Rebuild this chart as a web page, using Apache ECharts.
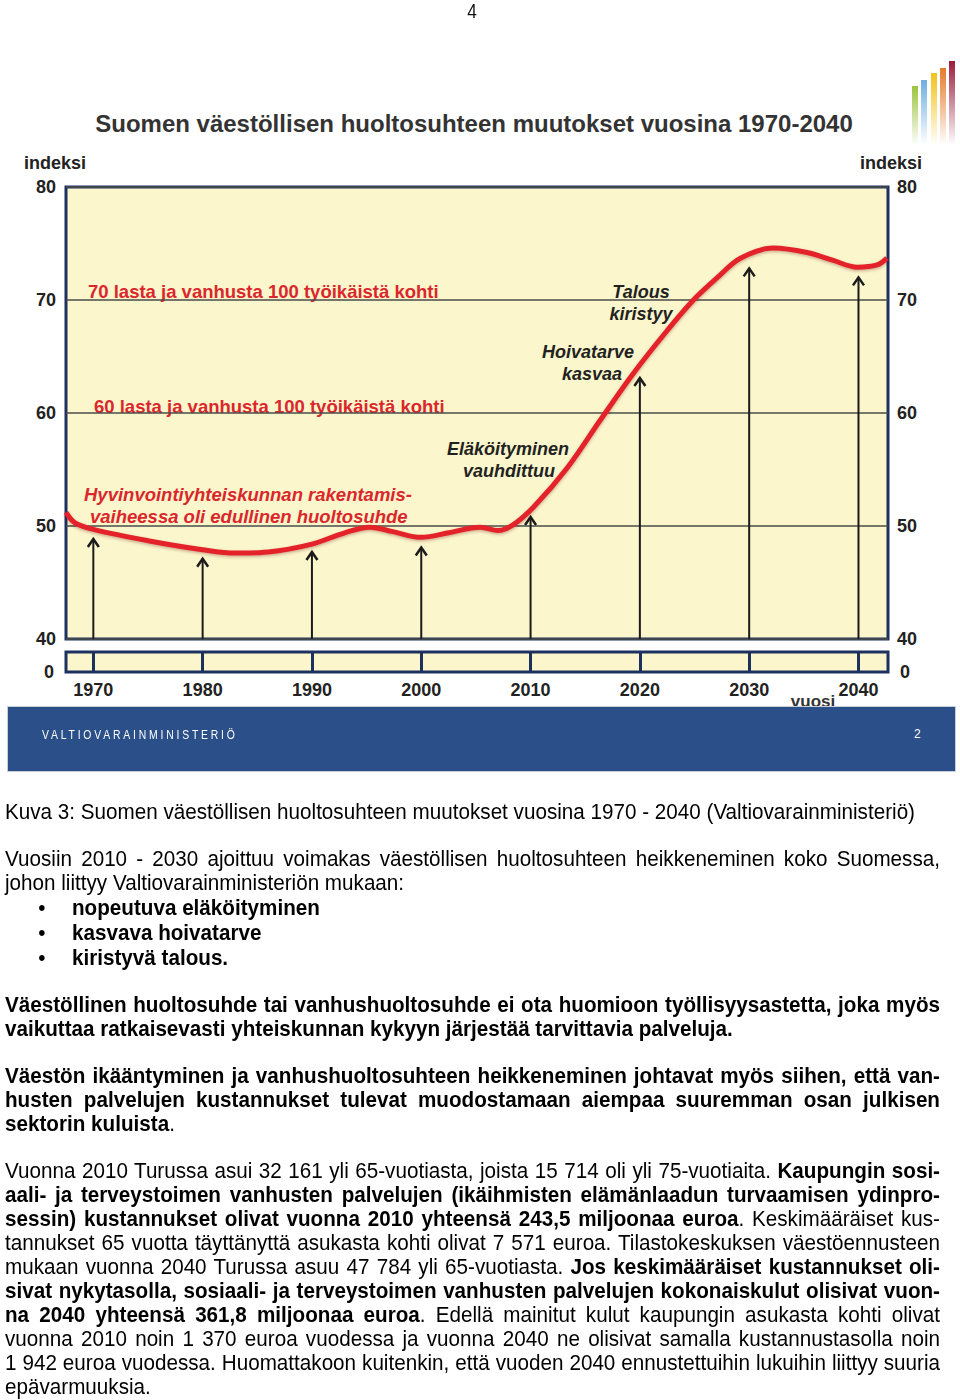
<!DOCTYPE html>
<html><head><meta charset="utf-8">
<script src="https://cdn.jsdelivr.net/npm/echarts@6/dist/echarts.min.js"></script>
<style>
html,body{margin:0;padding:0;background:#fff;width:960px;height:1400px;overflow:hidden;}
#chart{position:absolute;left:0;top:0;width:960px;height:780px;}
#pagenum{position:absolute;left:0;top:-1px;width:944px;text-align:center;font:21px 'Liberation Sans',Arial,sans-serif;color:#111;transform-origin:472px 0;transform:scaleX(0.82);}
#band{position:absolute;left:7px;top:706px;width:947px;height:64px;background:#2B4F88;border:1px solid #c9ced8;z-index:5;}
#band .org{position:absolute;left:34px;top:20px;color:#fff;font:13px 'Liberation Sans',Arial,sans-serif;letter-spacing:3.5px;transform-origin:0 0;transform:scaleX(0.8);}
#band .pg{position:absolute;left:906px;top:20px;color:#fff;font:12px 'Liberation Sans',Arial,sans-serif;}
#doc{position:absolute;left:5px;top:800px;transform-origin:0 0;font-family:'Liberation Sans',Arial,sans-serif;font-size:22px;line-height:24px;color:#000;}
.ln{white-space:nowrap;}
.j{text-align:justify;text-align-last:justify;}
.b{font-weight:bold;}
.gap{height:23px;}
.li{position:relative;line-height:25px;white-space:nowrap;font-weight:bold;}
.li .bu{position:absolute;top:0;font-weight:normal;}
</style>
</head><body>
<div id="pagenum">4</div>
<div id="chart"></div>
<div id="band"><span class="org">VALTIOVARAINMINISTERIÖ</span><span class="pg">2</span></div>
<div id="doc">
<div class="ln" id="cap">Kuva 3: Suomen väestöllisen huoltosuhteen muutokset vuosina 1970 - 2040 (Valtiovarainministeriö)</div>
<div class="gap"></div>
<div class="j">Vuosiin 2010 - 2030 ajoittuu voimakas väestöllisen huoltosuhteen heikkeneminen koko Suomessa,</div>
<div class="ln">johon liittyy Valtiovarainministeriön mukaan:</div>
<div class="li"><span class="bu">•</span>nopeutuva eläköityminen</div>
<div class="li"><span class="bu">•</span>kasvava hoivatarve</div>
<div class="li"><span class="bu">•</span>kiristyvä talous.</div>
<div class="gap"></div>
<div class="j b">Väestöllinen huoltosuhde tai vanhushuoltosuhde ei ota huomioon työllisyysastetta, joka myös</div>
<div class="ln b">vaikuttaa ratkaisevasti yhteiskunnan kykyyn järjestää tarvittavia palveluja.</div>
<div class="gap"></div>
<div class="j b">Väestön ikääntyminen ja vanhushuoltosuhteen heikkeneminen johtavat myös siihen, että van-</div>
<div class="j b">husten palvelujen kustannukset tulevat muodostamaan aiempaa suuremman osan julkisen</div>
<div class="ln"><b>sektorin kuluista</b>.</div>
<div class="gap"></div>
<div class="j">Vuonna 2010 Turussa asui 32 161 yli 65-vuotiasta, joista 15 714 oli yli 75-vuotiaita. <b>Kaupungin sosi-</b></div>
<div class="j b">aali- ja terveystoimen vanhusten palvelujen (ikäihmisten elämänlaadun turvaamisen ydinpro-</div>
<div class="j"><b>sessin) kustannukset olivat vuonna 2010 yhteensä 243,5 miljoonaa euroa</b>. Keskimääräiset kus-</div>
<div class="j">tannukset 65 vuotta täyttänyttä asukasta kohti olivat 7 571 euroa. Tilastokeskuksen väestöennusteen</div>
<div class="j">mukaan vuonna 2040 Turussa asuu 47 784 yli 65-vuotiasta. <b>Jos keskimääräiset kustannukset oli-</b></div>
<div class="j b">sivat nykytasolla, sosiaali- ja terveystoimen vanhusten palvelujen kokonaiskulut olisivat vuon-</div>
<div class="j"><b>na 2040 yhteensä 361,8 miljoonaa euroa</b>. Edellä mainitut kulut kaupungin asukasta kohti olivat</div>
<div class="j">vuonna 2010 noin 1 370 euroa vuodessa ja vuonna 2040 ne olisivat samalla kustannustasolla noin</div>
<div class="j">1 942 euroa vuodessa. Huomattakoon kuitenkin, että vuoden 2040 ennustettuihin lukuihin liittyy suuria</div>
<div class="ln">epävarmuuksia.</div>
</div>
<script>
// ---- chart data ----
const years = [1967.5, 1968.3, 1970, 1975, 1980, 1983, 1986, 1990, 1993, 1995.3, 1997.4, 2000, 2002.5, 2005.4, 2007, 2008.4, 2010.3, 2013.4, 2016.4, 2019.4, 2022.5, 2024.9, 2027.1, 2029.2, 2032.2, 2035.3, 2037.7, 2039.9, 2041.7, 2042.6];
const ratio = [51.2, 50.3, 49.7, 48.7, 47.9, 47.6, 47.7, 48.4, 49.4, 49.9, 49.5, 49.0, 49.4, 49.9, 49.6, 50.1, 51.7, 55.2, 59.4, 63.5, 67.3, 70.0, 72.0, 73.7, 74.6, 74.2, 73.5, 72.9, 73.1, 73.7];
const decades = [1970, 1980, 1990, 2000, 2010, 2020, 2030, 2040];
const arrowTips = [48.85, 47.1, 47.7, 48.1, 50.8, 63.1, 72.8, 72.0];
const yTicks = [40, 50, 60, 70, 80];
const stripTicks = [0];

// ---- text block scaling (condensed font look) ----
const doc = document.getElementById('doc');
const cap = document.getElementById('cap');
const natural = cap.getBoundingClientRect().width;
const s = 910 / natural;
doc.style.transform = 'scaleX(' + s + ')';
doc.style.width = (935 / s) + 'px';
document.querySelectorAll('.li').forEach(el => {
  el.style.paddingLeft = (67 / s) + 'px';
  el.querySelector('.bu').style.left = (37 / s - 4) + 'px';
});

// ---- chart ----
const FONT = "'Liberation Sans', Arial, sans-serif";
const NAVY = '#1C3160';
const BG = '#FBF6CB';
const XMIN = 1967.5, XMAX = 2042.7;
const lbl = {fontSize: 18, fontWeight: 'bold', color: '#222', fontFamily: FONT};

const chart = echarts.init(document.getElementById('chart'), null, {renderer: 'svg'});
function logoBar(x, top, c0, c1) {
  return {type: 'rect', shape: {x: x, y: top, width: 6, height: 145 - top},
    style: {fill: new echarts.graphic.LinearGradient(0, 0, 0, 1, [{offset: 0, color: c0}, {offset: 1, color: c1}])}};
}
function txt(text, x, y, font, fill, align) {
  return {type: 'text', x: x, y: y, style: {text: text, font: font, fill: fill, align: align || 'left', verticalAlign: 'middle', textAlign: align || 'left', textVerticalAlign: 'middle'}};
}
const RED = '#D9272D';
const redB = "bold 18.5px " + FONT;
const redBI = "italic bold 18.5px " + FONT;
const blkBI = "italic bold 18px " + FONT;

chart.setOption({
  animation: false,
  textStyle: {fontFamily: FONT},
  grid: [
    {left: 66, top: 187, width: 822, height: 452, show: true, backgroundColor: BG, borderColor: NAVY, borderWidth: 3},
    {left: 66, top: 652, width: 822, height: 20, show: true, backgroundColor: BG, borderColor: NAVY, borderWidth: 3}
  ],
  xAxis: [
    {gridIndex: 0, type: 'value', min: XMIN, max: XMAX, axisLine: {show: false}, axisTick: {show: false}, axisLabel: {show: false}, splitLine: {show: false}},
    {gridIndex: 1, type: 'value', min: XMIN, max: XMAX, position: 'bottom', axisLine: {show: false},
      axisTick: {show: true, inside: true, length: 20, customValues: decades, lineStyle: {color: NAVY, width: 3}},
      axisLabel: Object.assign({customValues: decades, margin: 9, formatter: v => String(v)}, lbl), splitLine: {show: false}}
  ],
  yAxis: [
    {gridIndex: 0, type: 'value', min: 40, max: 80, interval: 10, position: 'left', axisLine: {show: false}, axisTick: {show: false},
      axisLabel: Object.assign({margin: 10, customValues: yTicks}, lbl), splitLine: {show: true, lineStyle: {color: '#4a4d4a', width: 1.5}}},
    {gridIndex: 0, type: 'value', min: 40, max: 80, interval: 10, position: 'right', axisLine: {show: false}, axisTick: {show: false},
      axisLabel: Object.assign({margin: 9, customValues: yTicks}, lbl), splitLine: {show: false}},
    {gridIndex: 1, type: 'value', min: 0, max: 1, position: 'left', axisLine: {show: false}, axisTick: {show: false},
      axisLabel: Object.assign({margin: 12, customValues: stripTicks}, lbl), splitLine: {show: false}},
    {gridIndex: 1, type: 'value', min: 0, max: 1, position: 'right', axisLine: {show: false}, axisTick: {show: false},
      axisLabel: Object.assign({margin: 12, customValues: stripTicks}, lbl), splitLine: {show: false}}
  ],
  series: [
    {type: 'custom', xAxisIndex: 0, yAxisIndex: 0, z: 2,
      data: decades.map((d, i) => [d, arrowTips[i]]),
      renderItem: function (params, api) {
        const p0 = api.coord([api.value(0), 40]);
        const p1 = api.coord([api.value(0), api.value(1)]);
        return {type: 'group', children: [
          {type: 'line', shape: {x1: p0[0], y1: p0[1], x2: p1[0], y2: p1[1]}, style: {stroke: '#1b1b1b', lineWidth: 2}},
          {type: 'polyline', shape: {points: [[p1[0] - 5.5, p1[1] + 8], [p1[0], p1[1]], [p1[0] + 5.5, p1[1] + 8]]}, style: {stroke: '#1b1b1b', lineWidth: 2.5, fill: null}}
        ]};
      }},
    {type: 'line', xAxisIndex: 0, yAxisIndex: 0, z: 3, smooth: 0.35, symbol: 'none',
      data: years.map((y, i) => [y, ratio[i]]),
      lineStyle: {color: '#E3232A', width: 5, shadowColor: 'rgba(90,0,0,0.3)', shadowBlur: 3, shadowOffsetY: 1.5}}
  ],
  graphic: [
    txt('Suomen väestöllisen huoltosuhteen muutokset vuosina 1970-2040', 474, 123, 'bold 24px ' + FONT, '#333', 'center'),
    txt('indeksi', 55, 163, 'bold 18px ' + FONT, '#222', 'center'),
    txt('indeksi', 891, 163, 'bold 18px ' + FONT, '#222', 'center'),
    txt('vuosi', 813, 701, 'bold 17px ' + FONT, '#333', 'center'),
    txt('70 lasta ja vanhusta 100 työikäistä kohti', 88, 291, redB, RED),
    txt('60 lasta ja vanhusta 100 työikäistä kohti', 94, 406, redB, RED),
    txt('Hyvinvointiyhteiskunnan rakentamis-', 84, 494, redBI, RED),
    txt('vaiheessa oli edullinen huoltosuhde', 90, 516, redBI, RED),
    txt('Talous', 641, 292, blkBI, '#222', 'center'),
    txt('kiristyy', 641, 314, blkBI, '#222', 'center'),
    txt('Hoivatarve', 588, 352, blkBI, '#222', 'center'),
    txt('kasvaa', 592, 374, blkBI, '#222', 'center'),
    txt('Eläköityminen', 508, 449, blkBI, '#222', 'center'),
    txt('vauhdittuu', 509, 471, blkBI, '#222', 'center'),
    logoBar(912, 86, '#9CC43E', 'rgba(156,196,62,0)'),
    logoBar(921, 80, '#6FAEE0', 'rgba(111,174,224,0)'),
    logoBar(931, 73, '#F2C21A', 'rgba(242,194,26,0)'),
    logoBar(940, 68, '#E57B2C', 'rgba(229,123,44,0)'),
    logoBar(949, 61, '#9A1C3D', 'rgba(154,28,61,0)')
  ]
});
</script>
</body></html>
